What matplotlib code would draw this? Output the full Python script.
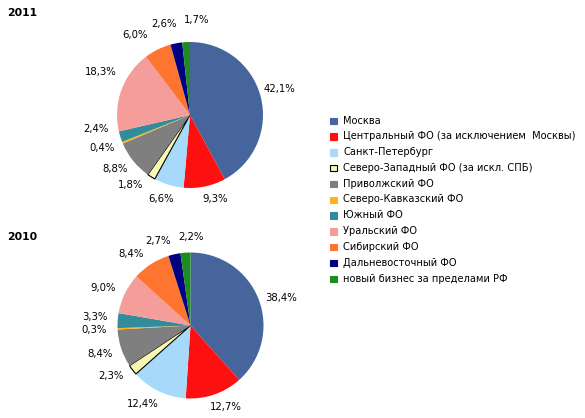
import matplotlib
matplotlib.use("Agg")
import matplotlib.pyplot as plt
from matplotlib.patches import Rectangle
import numpy as np

categories = [
    "Москва",
    "Центральный ФО (за исключением  Москвы)",
    "Санкт-Петербург",
    "Северо-Западный ФО (за искл. СПБ)",
    "Приволжский ФО",
    "Северо-Кавказский ФО",
    "Южный ФО",
    "Уральский ФО",
    "Сибирский ФО",
    "Дальневосточный ФО",
    "новый бизнес за пределами РФ",
]
values_2011 = [42.1, 9.3, 6.6, 1.8, 8.8, 0.4, 2.4, 18.3, 6.0, 2.6, 1.7]
values_2010 = [38.4, 12.7, 12.4, 2.3, 8.4, 0.3, 3.3, 9.0, 8.4, 2.7, 2.2]
years = ["2011", "2010"]

colors = ["#46659D", "#FF1010", "#A6D9FA", "#F7F7B5", "#7F7F7F", "#FFB21E",
          "#328C9C", "#F49D9B", "#FF7530", "#000080", "#1E8C1E"]

# label angle nudges (degrees, counter-clockwise) to mimic best-fit placement
nudges_2011 = [2, 5, -2, -8, -3, -2, -9, -6, 8, 5, -7]
nudges_2010 = [-4, 4, -5, -5, -1, 0, -1, 3, 7, 8, -4]
dists_2011 = [1.28, 1.2, 1.22, 1.26, 1.27, 1.29, 1.3, 1.36, 1.33, 1.3, 1.3]
dists_2010 = [1.3, 1.22, 1.26, 1.29, 1.3, 1.32, 1.32, 1.3, 1.27, 1.24, 1.21]

W, H = 585, 418
fig = plt.figure(figsize=(W / 100, H / 100), dpi=100)
plt.rcParams['font.family'] = ['DejaVu Sans']
FS = 7.0

def fmt(v):
    return f"{v:.1f}".replace(".", ",") + "%"

def draw_pie(vals, nudges, dists, cx, cy, r, title, ty):
    ax = fig.add_axes([(cx - r) / W, (H - cy - r) / H, 2 * r / W, 2 * r / H])
    wedges, _ = ax.pie(vals, colors=colors, startangle=90, counterclock=False,
                       radius=1.0, wedgeprops=dict(linewidth=0))
    wedges[3].set_edgecolor("black")
    wedges[3].set_linewidth(0.8)
    ax.set_xlim(-1, 1)
    ax.set_ylim(-1, 1)
    ax.set_aspect("auto")
    ax.axis("off")
    for w, v, n, d in zip(wedges, vals, nudges, dists):
        ang = np.deg2rad((w.theta1 + w.theta2) / 2 + n)
        ax.text(d * np.cos(ang), d * np.sin(ang), fmt(v), ha="center", va="center",
                fontsize=FS + 0.3, color="black", clip_on=False)
    fig.text(7 / W, 1 - ty / H, title, fontsize=FS + 0.8, fontweight="bold",
             ha="left", va="center")

draw_pie(values_2011, nudges_2011, dists_2011, 190, 115, 73, years[0], 12.5)
draw_pie(values_2010, nudges_2010, dists_2010, 190.5, 325.5, 73, years[1], 236.5)

# legend
y0, dy = 120.5, 15.8
for i, (name, c) in enumerate(zip(categories, colors)):
    y = y0 + i * dy
    ec = "black" if i == 3 else c
    fig.patches.append(Rectangle((330 / W, 1 - (y + 3.5) / H), 6.5 / W, 6.5 / H,
                                 transform=fig.transFigure, facecolor=c,
                                 edgecolor=ec, linewidth=0.8))
    fig.text(343 / W, 1 - y / H, name, fontsize=7.15, ha="left", va="center")

fig.savefig("out.png", dpi=100, facecolor="white")
